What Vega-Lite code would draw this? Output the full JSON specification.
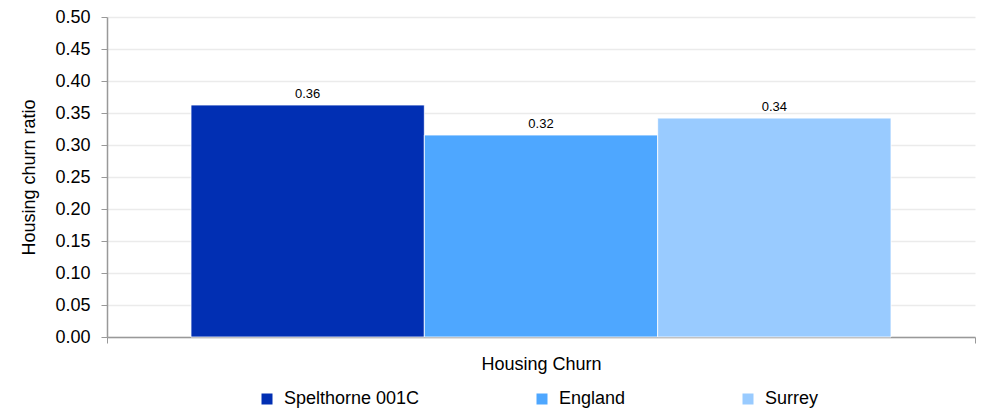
{
  "$schema": "https://vega.github.io/schema/vega-lite/v6.json",
  "width": 868,
  "height": 320,
  "autosize": {"type": "none"},
  "padding": {"left": 107, "top": 17, "right": 7, "bottom": 72},
  "background": "white",
  "config": {
    "font": "Liberation Sans",
    "view": {"stroke": null},
    "axis": {"labelFont": "Liberation Sans", "titleFont": "Liberation Sans", "labelColor": "#000", "titleColor": "#000", "titleFontWeight": "normal"}
  },
  "data": {
    "values": [
      {"category": "Housing Churn", "area": "Spelthorne 001C", "value": 0.3625},
      {"category": "Housing Churn", "area": "England", "value": 0.3156},
      {"category": "Housing Churn", "area": "Surrey", "value": 0.342}
    ]
  },
  "encoding": {
    "x": {
      "field": "category", "type": "nominal",
      "scale": {"paddingInner": 0, "paddingOuter": 0},
      "axis": {"title": null, "labelAngle": 0, "labelFontSize": 18, "labelPadding": 12, "tickBand": "extent", "tickSize": 6, "tickColor": "#999", "domainColor": "#999", "domainWidth": 1.5}
    },
    "xOffset": {
      "field": "area", "type": "nominal",
      "sort": ["Spelthorne 001C", "England", "Surrey"],
      "scale": {"paddingInner": 0, "paddingOuter": 0.36}
    },
    "y": {
      "field": "value", "type": "quantitative",
      "scale": {"domain": [0, 0.5], "nice": false},
      "axis": {"title": "Housing churn ratio", "titleFontSize": 18, "titlePadding": 16, "values": [0, 0.05, 0.1, 0.15, 0.2, 0.25, 0.3, 0.35, 0.4, 0.45, 0.5], "format": ".2f", "labelFontSize": 18, "labelPadding": 11, "tickSize": 6, "tickColor": "#999", "domainColor": "#999", "domainWidth": 1.5, "gridColor": "#ebebeb", "gridWidth": 1.5}
    }
  },
  "layer": [
    {
      "mark": {"type": "bar", "stroke": "white", "strokeWidth": 0.8},
      "encoding": {
        "color": {
          "field": "area", "type": "nominal",
          "scale": {"domain": ["Spelthorne 001C", "England", "Surrey"], "range": ["#012FB3", "#4EA7FF", "#99CBFF"]},
          "legend": {
            "title": null, "orient": "none", "direction": "horizontal",
            "legendX": 151, "legendY": 373,
            "symbolType": "square", "symbolSize": 121, "symbolStrokeWidth": 0,
            "labelFontSize": 18, "labelColor": "#000", "labelFont": "Liberation Sans", "labelOffset": 8, "columnPadding": 113
          }
        }
      }
    },
    {
      "mark": {"type": "text", "baseline": "alphabetic", "dy": -7, "fontSize": 13, "color": "#000"},
      "encoding": {
        "text": {"field": "value", "type": "quantitative", "format": ".2f"}
      }
    }
  ]
}
